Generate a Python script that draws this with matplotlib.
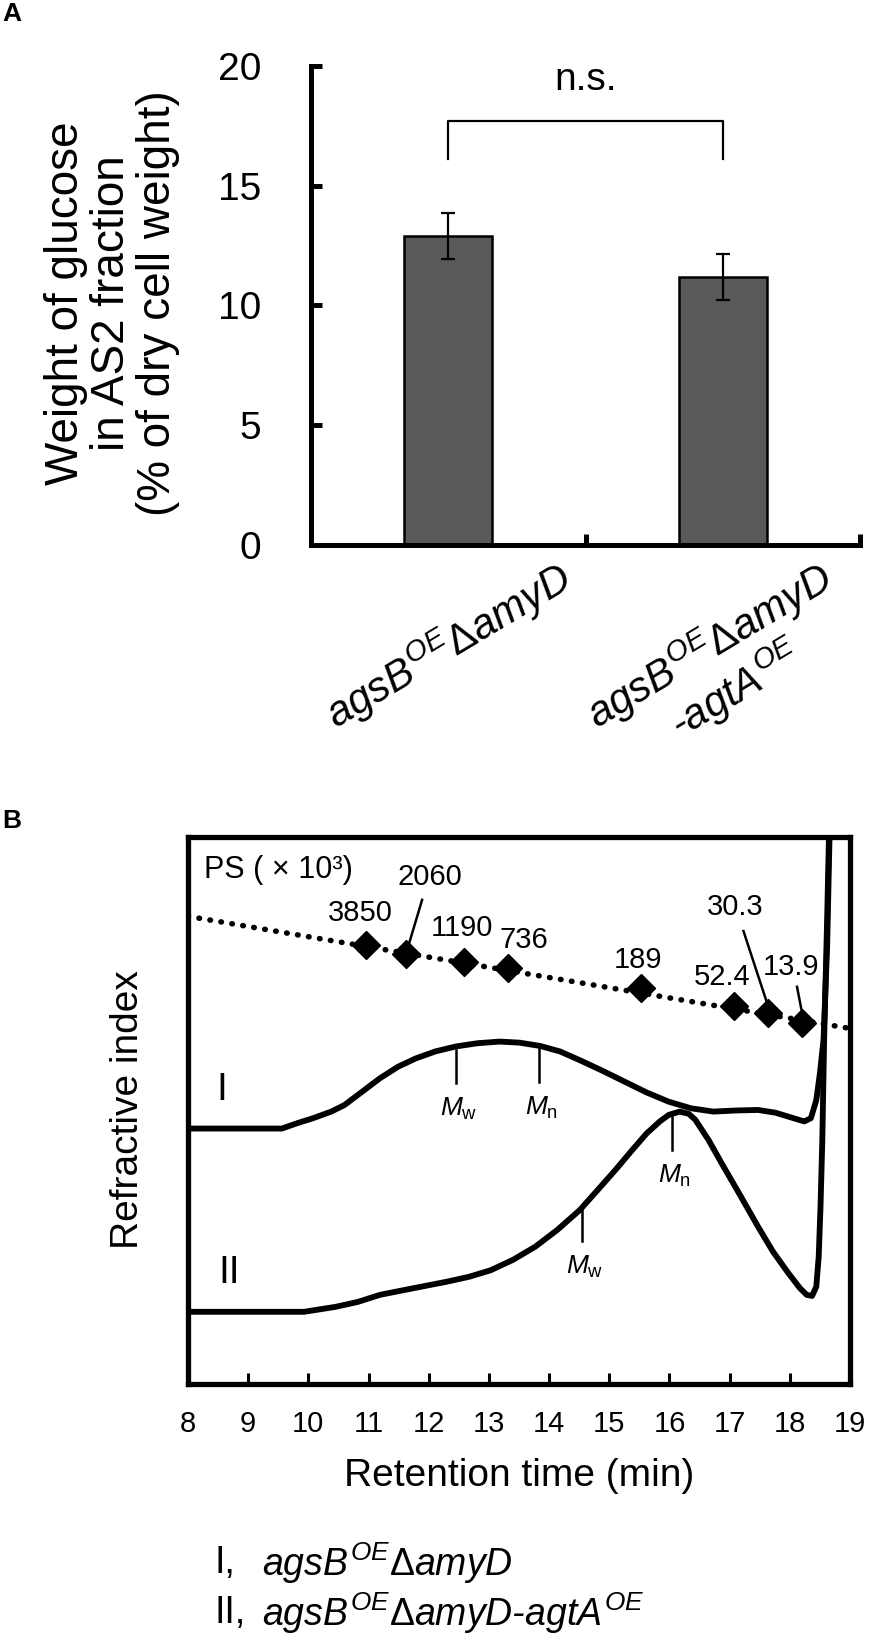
import numpy as np
import matplotlib.pyplot as plt

plt.rcParams['font.family'] = ['Liberation Sans', 'DejaVu Sans']
plt.rcParams['mathtext.fontset'] = 'custom'
plt.rcParams['mathtext.rm'] = 'Liberation Sans'
plt.rcParams['mathtext.it'] = 'Liberation Sans:italic'
plt.rcParams['mathtext.bf'] = 'Liberation Sans:bold'

# ---- panel A data ----
strains = [r'$agsB^{OE}\Delta amyD$',
           r'$agsB^{OE}\Delta amyD$' + '\n' + r'-$agtA^{OE}$']
glucose = [12.9, 11.2]          # % of dry cell weight
glucose_err = [0.95, 0.97]
bracket_top = 17.7
bracket_leg = 16.1
y_ticks_a = [0, 5, 10, 15, 20]

# ---- panel B data ----
ps_time = [10.95, 11.63, 12.59, 13.32, 15.53, 17.07, 17.63, 18.2]
ps_signal = [80.3, 78.6, 77.1, 76.1, 72.4, 69.1, 67.8, 66.0]
ps_labels = ['3850', '2060', '1190', '736', '189', '52.4', '30.3', '13.9']
fit_t = [8.0, 19.0]
fit_ri = [85.5, 65.0]

t_I = [8.0, 9.56, 9.82, 10.08, 10.38, 10.60, 10.89, 11.19, 11.49, 11.78,
       12.11, 12.45, 12.81, 13.18, 13.51, 13.85, 14.18, 14.51, 14.88, 15.25,
       15.62, 15.99, 16.36, 16.73, 17.10, 17.47, 17.76, 18.06, 18.24, 18.35,
       18.44, 18.50, 18.56, 18.62, 18.67]
ri_I = [46.7, 46.7, 47.7, 48.6, 49.8, 51.0, 53.4, 55.9, 58.0, 59.5,
        60.8, 61.7, 62.3, 62.6, 62.4, 61.8, 60.8, 59.2, 57.3, 55.3,
        53.3, 51.6, 50.4, 49.8, 50.0, 50.1, 49.6, 48.6, 48.0, 48.6,
        51.9, 56.8, 62.9, 80.0, 105.0]

t_II = [8.0, 9.93, 10.45, 10.82, 11.19, 11.74, 12.30, 12.67, 13.03, 13.40,
        13.77, 14.14, 14.51, 14.81, 15.10, 15.36, 15.62, 15.84, 15.99, 16.17,
        16.32, 16.43, 16.65, 16.87, 17.17, 17.47, 17.72, 17.98, 18.17, 18.28,
        18.37, 18.44, 18.48, 18.51, 18.54, 18.57, 18.62, 18.66]
ri_II = [13.2, 13.2, 14.1, 15.0, 16.3, 17.5, 18.7, 19.6, 20.8, 22.7,
         25.1, 28.2, 31.8, 35.5, 39.1, 42.5, 45.8, 48.0, 49.2, 49.8,
         49.4, 48.3, 44.6, 40.3, 34.6, 28.8, 24.2, 20.2, 17.5, 16.3,
         16.1, 17.8, 23.3, 32.4, 44.6, 62.9, 85.0, 105.0]

# average molecular weight marks: (time, curve value, label)
mw_marks_I = [(12.45, 61.1, r'$M_{\rm w}$'), (13.83, 61.2, r'$M_{\rm n}$')]
mw_marks_II = [(14.54, 32.2, r'$M_{\rm w}$'), (16.04, 48.8, r'$M_{\rm n}$')]

legend_names = ['I,', 'II,']
legend_strains = [r'$agsB^{OE}\Delta amyD$',
                  r'$agsB^{OE}\Delta amyD$-$agtA^{OE}$']

W, H = 870, 1638
fig = plt.figure(figsize=(W / 100, H / 100), dpi=100)

# ================= panel A =================
axA = fig.add_axes([311 / W, 1 - 545 / H, 549 / W, 479 / H])
x_pos = np.arange(len(strains)) + 0.5
axA.bar(x_pos, glucose, width=0.32, color='#595959', edgecolor='black',
        linewidth=1.8, zorder=2)
axA.errorbar(x_pos, glucose, yerr=glucose_err, fmt='none', ecolor='black',
             elinewidth=1.6, capsize=5, capthick=1.6, zorder=3)
axA.plot([x_pos[0], x_pos[0], x_pos[1], x_pos[1]],
         [bracket_leg, bracket_top, bracket_top, bracket_leg],
         color='black', lw=1.6)
axA.text(x_pos.mean(), 19.4, 'n.s.', ha='center', va='center', fontsize=28)

axA.set_xlim(0, 2)
axA.set_ylim(0, 20)
for s in ['top', 'right']:
    axA.spines[s].set_visible(False)
for s in ['left', 'bottom']:
    axA.spines[s].set_linewidth(3.6)
axA.set_yticks(y_ticks_a)
axA.tick_params(axis='y', direction='in', length=8, width=3.6, pad=36,
                labelsize=28)
axA.set_xticks([0, 1, 2])
axA.tick_params(axis='x', which='major', direction='in', length=8, width=3.6,
                labelbottom=False)
axA.set_xticks(x_pos, strains, minor=True)
axA.tick_params(axis='x', which='minor', length=0, pad=6, labelsize=30)
for lab in axA.get_xticklabels(minor=True):
    lab.set_rotation(31)
    lab.set_ha('center')
    lab.set_multialignment('center')
    lab.set_linespacing(1.05)
    lab.set_fontstyle('italic')

fig.text(112 / W, 1 - 303 / H,
         'Weight of glucose\nin AS2 fraction\n(% of dry cell weight)',
         rotation=90, ha='center', va='center', multialignment='center',
         fontsize=33, linespacing=1.05)
fig.text(2 / W, 1 - 14 / H, 'A', fontsize=19, fontweight='bold',
         ha='left', va='center')

# ================= panel B =================
axB = fig.add_axes([188 / W, 1 - 1384 / H, 662 / W, 547 / H])
axB.set_xlim(8, 19)
axB.set_ylim(0, 100)
for s in axB.spines.values():
    s.set_linewidth(3.8)
axB.set_xticks(range(8, 20))
axB.tick_params(axis='x', direction='in', length=8, width=2.2, pad=19,
                labelsize=21)
axB.set_yticks([])
axB.set_xlabel('Retention time (min)', fontsize=28, labelpad=14)
fig.text(128 / W, 1 - 1110 / H, 'Refractive index', rotation=90,
         ha='center', va='center', fontsize=28)
fig.text(2 / W, 1 - 821 / H, 'B', fontsize=19, fontweight='bold',
         ha='left', va='center')

# calibration line of polystyrene standards
axB.plot(fit_t, fit_ri, color='black', lw=4.0, ls=(0, (0.1, 1.9)),
         dash_capstyle='round', zorder=3)
axB.plot(ps_time, ps_signal, 'D', color='black', ms=14, zorder=4)

label_xy = [(10.86, 86.1), (12.02, 92.7), (12.55, 83.4), (13.58, 81.2),
            (15.48, 77.5), (16.87, 74.4), (17.09, 87.2), (18.02, 76.2)]
for (tx, ty), txt in zip(label_xy, ps_labels):
    axB.text(tx, ty, txt, ha='center', va='center', fontsize=21)
leaders = {'2060': ((11.89, 88.5), (11.64, 79.3)),
           '30.3': ((17.23, 82.8), (17.65, 68.7)),
           '13.9': ((18.12, 72.6), (18.22, 66.9))}
for (x0, y0), (x1, y1) in leaders.values():
    axB.plot([x0, x1], [y0, y1], color='black', lw=1.8)
axB.text(8.27, 94.0, 'PS ( \u00d7 10\u00b3)', ha='left', va='center',
         fontsize=22)

# RI traces
axB.plot(t_I, ri_I, color='black', lw=4.2, solid_joinstyle='round',
         solid_capstyle='round', zorder=5)
axB.plot(t_II, ri_II, color='black', lw=4.2, solid_joinstyle='round',
         solid_capstyle='round', zorder=5)
axB.text(8.56, 53.7, 'I', ha='center', va='center', fontsize=28)
axB.text(8.68, 20.3, 'II', ha='center', va='center', fontsize=28)

for marks in (mw_marks_I, mw_marks_II):
    for mx, my, mlab in marks:
        axB.plot([mx, mx], [my, my - 6.0], color='black', lw=1.8)
        axB.text(mx + 0.05, my - 10.8, mlab, ha='center', va='center',
                 fontsize=19)

# legend text under panel B
for i, (nm, st) in enumerate(zip(legend_names, legend_strains)):
    yy = 1 - (1563 + 50 * i) / H
    fig.text(215 / W, yy, nm, ha='left', va='center', fontsize=27)
    fig.text(262 / W, yy, st, ha='left', va='center', fontsize=27,
             fontstyle='italic')

fig.savefig('out.png', dpi=100)
